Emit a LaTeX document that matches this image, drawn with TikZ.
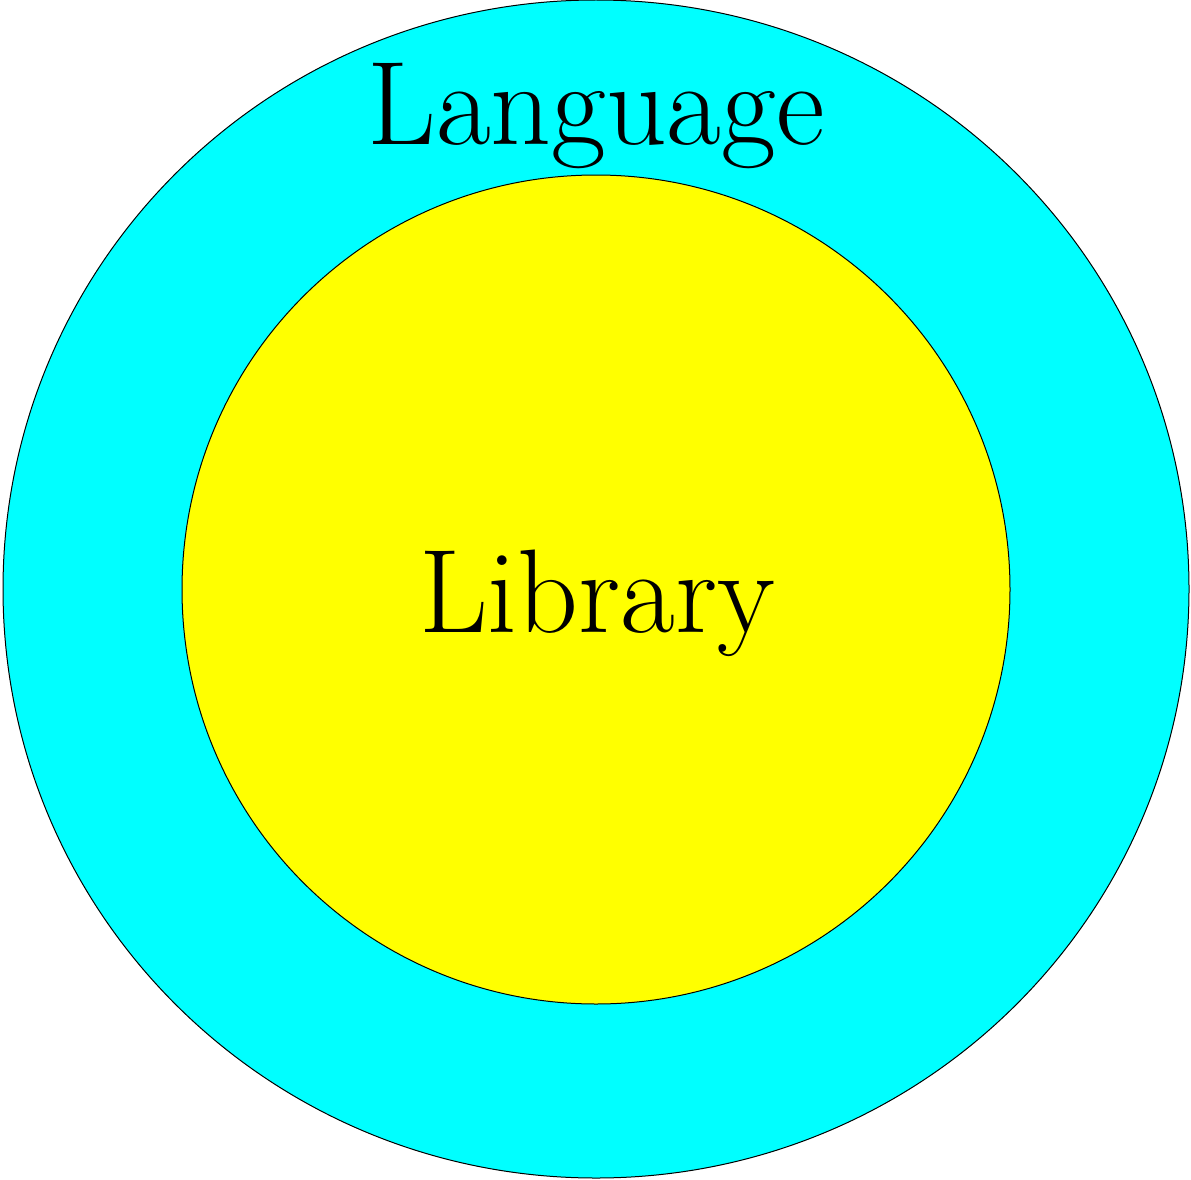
\documentclass[tikz,border=0pt]{standalone}
\usepackage{fontspec}
\definecolor{ringcyan}{RGB}{0,255,255}
\definecolor{coreyellow}{RGB}{255,255,0}
\begin{document}
\begin{tikzpicture}[x=1pt,y=-1pt,
  ring/.style={draw=black,line width=1pt},
  lbl/.style={font=\fontsize{119}{119}\selectfont,inner sep=0pt,anchor=base}]
\useasboundingbox (0,0) rectangle (1191,1180);
\fill[white] (0,0) rectangle (1191,1180);
\draw[ring,fill=ringcyan] (596,589) ellipse [x radius=593,y radius=589];
\draw[ring,fill=coreyellow] (596,589.5) ellipse [x radius=414,y radius=414.5];
\node[lbl] (language) at (596,145) {Language};
\node[lbl] (library) at (597,632) {Library};
\end{tikzpicture}
\end{document}
